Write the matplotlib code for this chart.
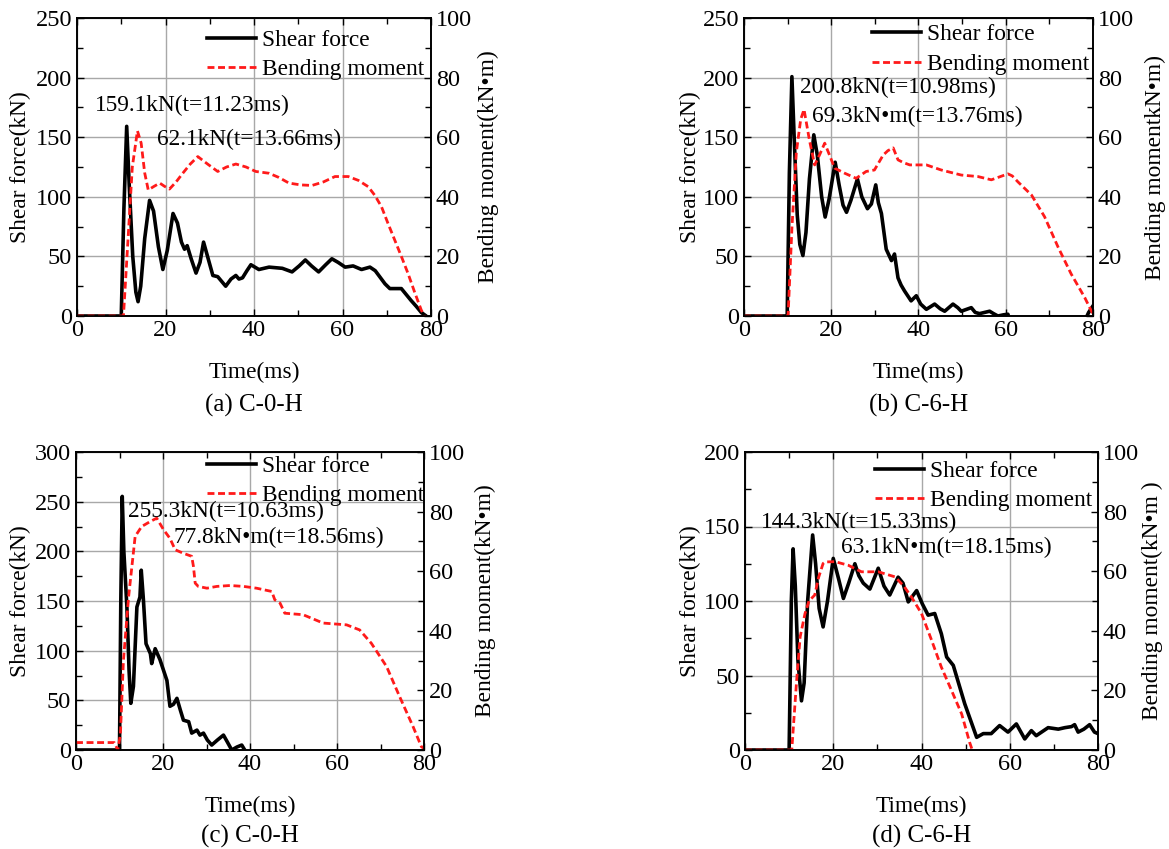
import matplotlib
matplotlib.use("Agg")
import matplotlib.pyplot as plt
from matplotlib.ticker import MultipleLocator

plt.rcParams['font.family'] = ['Liberation Serif', 'DejaVu Serif']
plt.rcParams['font.size'] = 16.8

# ---------------- data ----------------
# Panel (a) C-0-H
t_a_shear = [0, 10.0, 10.6, 11.23, 11.8, 12.6, 13.3, 13.8, 14.4, 15.3, 16.4, 17.3, 18.4, 19.4, 20.4,
             21.7, 22.7, 23.6, 24.3, 24.9, 25.8, 26.9, 27.8, 28.6, 29.5, 30.7, 31.8, 32.7, 33.6, 34.8,
             35.9, 36.6, 37.4, 38.4, 39.3, 41.1, 43.4, 46.4, 48.6, 50.2, 51.6, 53.0, 54.6, 56.2, 57.6,
             59.0, 60.6, 62.4, 64.3, 66.2, 67.4, 68.4, 69.6, 70.7, 72.0, 73.3, 74.4, 75.5, 76.7, 77.8,
             78.9, 80]
v_a_shear = [0, 0, 90, 159.1, 110, 50, 20, 12, 25, 65, 97, 88, 58, 39, 55,
             86, 78, 62, 56, 59, 48, 36, 45, 62, 50, 34, 33, 29, 25, 31,
             34, 31, 32, 38, 43, 39, 41, 40, 37, 42, 47, 42, 37, 43, 48,
             45, 41, 42, 39, 41, 38, 33, 27, 23, 23, 23, 18, 13, 8, 3,
             0, -5]
t_a_moment = [0, 10.5, 11.5, 12.5, 13.66, 14.5, 15.3, 16.1, 17.4, 18.7, 19.8, 20.9, 22.4, 23.9, 25.6,
              27.3, 29.5, 31.8, 33.8, 35.9, 38.2, 40.4, 43.4, 45.6, 47.9, 50.5, 53.1, 55.7, 58.3, 61.3,
              63.6, 65.8, 67.3, 68.8, 70.3, 71.8, 73.3, 74.8, 76.3, 77.8, 78.5, 80]
m_a_moment = [0, 0, 25, 50, 62.1, 58, 48, 42.3, 43.5, 44.6, 43.5, 42.6, 45, 47.9, 51,
              53.5, 51, 48.5, 50, 51, 50, 48.5, 47.9, 46.5, 44.6, 44, 43.8, 45, 46.8, 46.8,
              45.5, 43.4, 40.5, 36.7, 31, 25.5, 20, 14.3, 8, 2, 0, -2]

# Panel (b) C-6-H
t_b_shear = [0, 9.9, 10.4, 10.98, 11.5, 12.2, 12.8, 13.5, 14.2, 15.0, 16.0, 16.8, 17.8, 18.6, 19.5,
             20.9, 21.8, 22.7, 23.5, 24.5, 26.0, 27.0, 28.3, 29.2, 30.2, 30.8, 31.5, 32.6, 33.8, 34.5,
             35.3, 36.0, 36.8, 38.3, 39.5, 40.5, 41.8, 43.7, 45.0, 46.0, 47.9, 49.0, 49.8, 52.1, 53.0,
             54.0, 56.3, 57.2, 58.2, 59.5, 60.5, 61.0, 78.0, 79.0, 80]
v_b_shear = [0, 0, 120, 200.8, 150, 85, 60, 50.7, 70, 115, 152, 135, 100, 83, 98,
             129, 110, 93, 87, 97, 115, 100, 90, 94, 110, 95, 86, 56, 46.5, 52,
             32, 26, 21, 12.7, 17, 10, 5.6, 10, 6, 4, 10, 7, 4, 7, 3,
             2, 4, 2, 0, 1, 1.5, -5, -5, 3, 8.5]
t_b_moment = [0, 10.1, 11.0, 12.0, 13.0, 13.76, 14.4, 15.0, 16.2, 17.3, 18.5, 19.6, 20.8, 23.1, 25.7,
              28.0, 29.9, 31.9, 33.0, 34.2, 35.3, 36.5, 38.0, 41.8, 45.2, 49.8, 53.6, 56.7, 60.5, 61.5,
              62.8, 65.9, 68.9, 72.0, 75.0, 78.1, 80]
m_b_moment = [0, 0, 30, 55, 66, 69.3, 64, 59, 50.7, 54, 58, 54, 49.6, 47.9, 46.2,
              48.5, 49, 54, 55.5, 56.4, 52.4, 51.5, 50.7, 50.7, 49, 47.3, 46.8, 45.7, 47.7, 47,
              45, 40.6, 33.3, 23.1, 14.1, 6.2, 0.6]

# Panel (c) C-0-H
t_c_shear = [0, 10.0, 10.3, 10.63, 11.0, 11.7, 12.2, 12.6, 13.2, 14.0, 14.7, 15.0, 15.5, 16.1, 17.1,
             17.4, 18.2, 19.3, 20.9, 21.6, 22.4, 23.2, 24.0, 24.7, 25.9, 26.6, 27.8, 28.5, 29.3, 30.2,
             31.2, 32.5, 33.9, 34.8, 35.8, 37.0, 38.1, 39.2, 40, 80]
v_c_shear = [0, 0, 150, 255.3, 200, 144, 80, 47, 64, 144, 154, 181, 151, 107, 97,
             87, 102, 91, 70, 44, 46, 52, 40, 30, 28.5, 17, 20, 15, 17, 10,
             5, 10, 15, 8, 0, 3, 5, -3, -6, -6]
t_c_moment = [0, 8.8, 9.6, 10.2, 10.9, 12.1, 13.6, 15.1, 17.1, 18.56, 20.1, 21.6, 22.8, 24.7, 26.6,
              27.0, 27.4, 28.1, 30.1, 32.4, 35.4, 38.5, 41.5, 45.0, 45.7, 46.9, 48.0, 52.2, 56.8, 62.2,
              65.2, 67.9, 71.4, 74.4, 77.5, 79.4, 80]
m_c_moment = [2.5, 2.5, 0, 5, 30, 51.5, 71.7, 75, 76.7, 77.8, 74, 71, 67.2, 66, 65,
              61.6, 56, 54.9, 54.3, 54.9, 55.2, 54.9, 54.3, 53.2, 50.4, 49.3, 45.9, 45.4, 42.6, 42,
              40.3, 35.8, 28, 17.9, 7.8, 1.1, 0.5]

# Panel (d) C-6-H
t_d_shear = [0, 10.0, 10.5, 10.9, 11.4, 12.0, 12.8, 13.4, 14.2, 15.33, 16.0, 16.8, 17.7, 18.7, 20.0,
             21.2, 22.3, 23.5, 24.9, 25.8, 26.8, 28.3, 30.2, 31.5, 32.8, 34.7, 35.8, 37.0, 38.9, 40.2,
             41.5, 43.0, 44.5, 45.7, 47.2, 49.8, 52.5, 54.0, 55.8, 57.7, 59.6, 61.5, 63.4, 64.9, 66.0,
             68.7, 71.0, 72.5, 74.0, 74.7, 75.5, 76.8, 78.1, 79.2, 80]
v_d_shear = [0, 0, 100, 135, 110, 60, 33, 45, 100, 144.3, 125, 95, 82.6, 100, 128.6,
             115, 101.7, 112, 125, 117, 112, 108, 122, 110, 104, 116, 112, 99.4, 107, 98,
             90.5, 91.6, 78, 62.4, 56.8, 31, 8.5, 11, 11, 16.4, 12, 17.5, 7.4, 13, 9.6,
             15, 14, 15, 15.7, 17, 12, 14, 17, 12, 11]
t_d_moment = [0, 10.6, 11.7, 12.5, 13.6, 14.5, 15.8, 16.7, 17.7, 18.15, 20.4, 23.4, 26.4, 30.2, 34.0,
              36.0, 37.7, 40.0, 42.3, 44.5, 46.8, 49.1, 50.9, 51.5, 52.5]
m_d_moment = [0, 0, 23.3, 38, 45.8, 50, 52, 58, 62.6, 63.1, 63.2, 62, 59.8, 59.8, 58.1,
              55, 51.4, 45.8, 36.8, 27.8, 20, 12.1, 2.6, 0, -5]

captions = ["(a) C-0-H", "(b) C-6-H", "(c) C-0-H", "(d) C-6-H"]
right_labels = ["Bending moment(kN\u2022m)", "Bending momentkN\u2022m)",
                "Bending moment(kN\u2022m)", "Bending moment(kN\u2022m )"]
shear_ylims = [250, 250, 300, 200]
notes_shear = ["159.1kN(t=11.23ms)", "200.8kN(t=10.98ms)", "255.3kN(t=10.63ms)", "144.3kN(t=15.33ms)"]
notes_moment = ["62.1kN(t=13.66ms)", "69.3kN\u2022m(t=13.76ms)", "77.8kN\u2022m(t=18.56ms)",
                "63.1kN\u2022m(t=18.15ms)"]

# ---------------- layout (pixels) ----------------
W, H = 1169, 849
FS = 16.8
TFS = 17.5
boxes = [(77, 18, 431, 316), (744, 18, 1093, 316), (76, 452, 424, 750), (745, 452, 1098, 750)]
caption_off = [89, 89, 86, 86]
note_pos_shear = [(4.1, 177), (12.8, 192), (12.0, 240), (3.6, 153)]
note_pos_moment = [(18.1, 148), (15.6, 167), (22.3, 214), (21.8, 136)]
legend_anchor = [(0.367, 0.876), (0.367, 0.895), (0.376, 0.903), (0.368, 0.886)]
ylab_off = [46, 43, 45, 44]
rlab_off = [47, 52, 51, 44]

series = [
    (t_a_shear, v_a_shear, t_a_moment, m_a_moment),
    (t_b_shear, v_b_shear, t_b_moment, m_b_moment),
    (t_c_shear, v_c_shear, t_c_moment, m_c_moment),
    (t_d_shear, v_d_shear, t_d_moment, m_d_moment),
]

fig = plt.figure(figsize=(W / 100, H / 100), dpi=100)

for i, (ts, vs, tm, mm) in enumerate(series):
    l, t, r, b = boxes[i]
    aw, ah = r - l, b - t
    ax = fig.add_axes([l / W, (H - b) / H, aw / W, ah / H])
    ax2 = ax.twinx()

    ax.set_xlim(0, 80)
    ax.set_ylim(0, shear_ylims[i])
    ax2.set_ylim(0, 100)
    ax.xaxis.set_major_locator(MultipleLocator(20))
    ax.xaxis.set_minor_locator(MultipleLocator(10))
    ax.yaxis.set_major_locator(MultipleLocator(50))
    ax.yaxis.set_minor_locator(MultipleLocator(25))
    ax2.yaxis.set_major_locator(MultipleLocator(20))
    ax2.yaxis.set_minor_locator(MultipleLocator(10))

    ax.grid(True, which='major', color='#a8a8a8', linewidth=1.0)
    ax.set_axisbelow(True)

    ax.tick_params(axis='both', which='both', direction='in', labelsize=TFS)
    ax.tick_params(axis='x', which='both', top=True, bottom=True, pad=3)
    ax.tick_params(axis='y', which='both', left=True, right=False, pad=3.5)
    ax.tick_params(which='major', length=5, width=1.0)
    ax.tick_params(which='minor', length=4, width=1.0)
    ax2.tick_params(axis='y', which='both', direction='in', labelsize=TFS, pad=3.5)
    ax2.tick_params(which='major', length=5, width=1.0)
    ax2.tick_params(which='minor', length=4, width=1.0)
    for a in (ax, ax2):
        for s in a.spines.values():
            s.set_linewidth(1.2)

    l1, = ax.plot(ts, vs, color='black', linewidth=2.6, solid_joinstyle='round',
                  label='Shear force')
    l2, = ax2.plot(tm, mm, color='#ff1a1a', linewidth=2.0, linestyle=(0, (2.5, 1.3)),
                   label='Bending moment')

    ax.text(note_pos_shear[i][0], note_pos_shear[i][1], notes_shear[i], fontsize=FS,
            ha='left', va='center', zorder=10)
    ax.text(note_pos_moment[i][0], note_pos_moment[i][1], notes_moment[i], fontsize=FS,
            ha='left', va='center', zorder=10)

    ax2.legend(handles=[l1, l2], loc='center left', bbox_to_anchor=legend_anchor[i],
               frameon=False, fontsize=FS, handlelength=2.1, handletextpad=0.25,
               labelspacing=0.35, borderpad=0, borderaxespad=0)

    ax.set_ylabel("Shear force(kN)", fontsize=FS)
    ax.yaxis.set_label_coords(-ylab_off[i] / aw, 0.5)
    ax2.set_ylabel(right_labels[i], fontsize=FS)
    ax2.yaxis.set_label_coords(1 + rlab_off[i] / aw, 0.5)
    ax.set_xlabel("Time(ms)", fontsize=FS)
    ax.xaxis.set_label_coords(0.5, -46 / ah)

    fig.text((l + r) / 2 / W, 1 - (b + caption_off[i]) / H, captions[i], fontsize=18,
             ha='center', va='center')

fig.savefig("out.png", dpi=100)
